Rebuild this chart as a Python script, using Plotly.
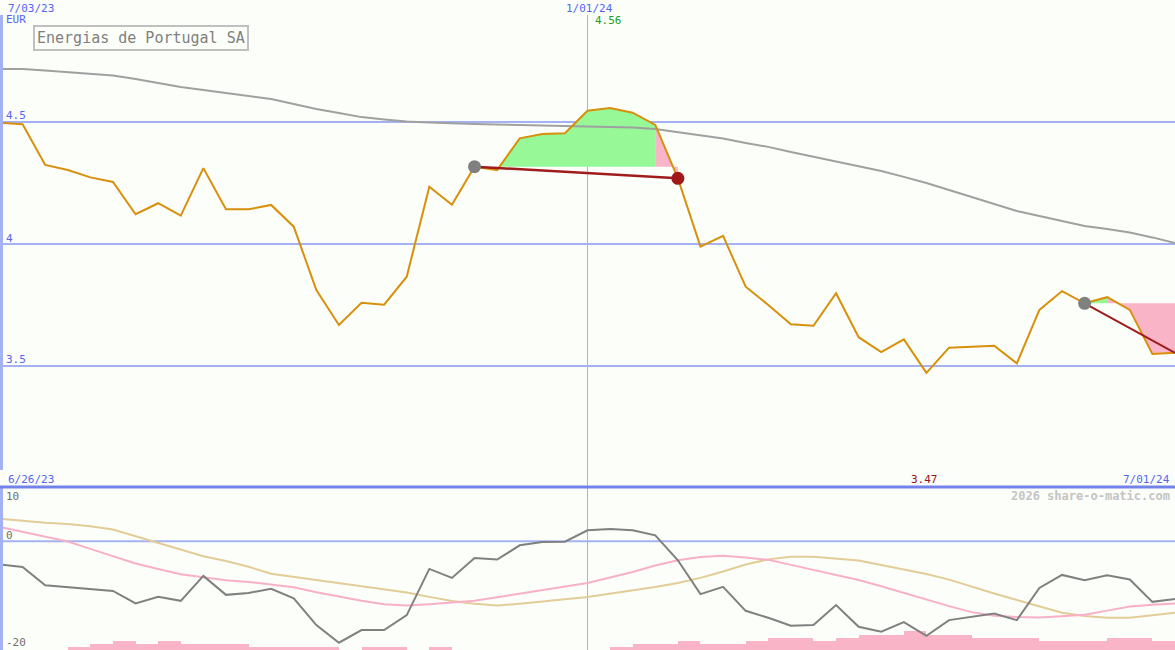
import pandas as pd
import plotly.graph_objects as go

# ---------------- data ----------------
start = pd.Timestamp("2023-07-03")
dates = [start + pd.Timedelta(weeks=k) for k in range(53)]

price = [4.497, 4.491, 4.324, 4.303, 4.273, 4.254, 4.122, 4.167, 4.116, 4.311,
         4.142, 4.142, 4.160, 4.071, 3.811, 3.668, 3.759, 3.751, 3.866, 4.235,
         4.161, 4.317, 4.303, 4.433, 4.451, 4.454, 4.546, 4.557, 4.538, 4.488,
         4.269, 3.989, 4.033, 3.825, 3.750, 3.671, 3.665, 3.798, 3.618, 3.557,
         3.609, 3.472, 3.575, 3.579, 3.583, 3.511, 3.730, 3.807, 3.757, 3.782,
         3.730, 3.549, 3.554]

ma = [4.717, 4.717, 4.711, 4.705, 4.699, 4.691, 4.676, 4.659, 4.643, 4.631,
      4.619, 4.607, 4.594, 4.574, 4.553, 4.537, 4.520, 4.510, 4.502, 4.498,
      4.494, 4.492, 4.490, 4.488, 4.486, 4.484, 4.482, 4.480, 4.477, 4.471,
      4.459, 4.447, 4.432, 4.414, 4.398, 4.377, 4.357, 4.336, 4.316, 4.299,
      4.275, 4.250, 4.221, 4.193, 4.164, 4.135, 4.115, 4.094, 4.074, 4.061,
      4.047, 4.027, 4.004]

momentum = [-4.28, -4.72, -8.07, -8.39, -8.75, -9.12, -11.43, -10.22, -10.95, -6.37,
            -9.85, -9.49, -8.75, -10.51, -15.41, -18.66, -16.33, -16.33, -13.58, -5.08,
            -6.73, -3.06, -3.36, -0.73, -0.13, -0.06, 2.02, 2.26, 2.02, 1.10,
            -3.49, -9.72, -8.39, -12.79, -14.07, -15.54, -15.41, -11.74, -15.72, -16.64,
            -14.86, -17.38, -14.50, -13.89, -13.27, -14.50, -8.57, -6.18, -7.16, -6.24,
            -7.03, -11.14, -10.59]

signal_pink = [2.62, 1.74, 0.86, -0.04, -1.39, -2.75, -4.09, -5.08, -6.07, -6.62,
               -7.17, -7.47, -7.93, -8.46, -9.38, -10.22, -10.92, -11.56, -11.80, -11.56,
               -11.30, -10.92, -10.29, -9.67, -9.03, -8.35, -7.67, -6.66, -5.65, -4.44,
               -3.50, -2.90, -2.66, -2.99, -3.41, -4.33, -5.28, -6.20, -7.12, -8.27,
               -9.52, -10.79, -11.93, -13.03, -13.69, -13.91, -14.00, -13.78, -13.52, -12.75,
               -11.98, -11.67, -11.43]

signal_tan = [4.17, 3.74, 3.43, 3.21, 2.79, 2.17, 0.95, -0.28, -1.50, -2.73,
              -3.63, -4.68, -5.96, -6.53, -7.08, -7.61, -8.22, -8.84, -9.41, -10.22,
              -10.99, -11.49, -11.82, -11.50, -11.14, -10.68, -10.24, -9.63, -9.03, -8.42,
              -7.67, -6.72, -5.56, -4.28, -3.32, -2.84, -2.86, -3.19, -3.54, -4.37,
              -5.19, -6.00, -7.05, -8.37, -9.61, -10.79, -11.96, -13.14, -13.74, -14.07,
              -14.07, -13.63, -13.16]

bar_heights = [0, 0, 0, 0.55, 1.1, 1.65, 1.1, 1.65, 1.1, 1.1,
               1.1, 0.55, 0.55, 0.55, 0.55, 0, 0.55, 0.55, 0, 0.55,
               0, 0, 0, 0, 0, 0, 0, 0.55, 1.1, 1.1,
               1.65, 1.1, 1.1, 1.65, 2.2, 2.2, 1.65, 2.2, 2.75, 2.75,
               3.5, 2.75, 2.75, 2.2, 2.2, 2.2, 1.65, 1.65, 1.65, 2.2,
               2.2, 1.65]

trade1_entry, trade1_exit = 21, 30
trade2_entry = 48

title = "Energias de Portugal SA"
max_label, min_label = "4.56", "3.47"

# ---------------- styling ----------------
W, H = 1175, 650
BG = "#fbfef9"
GRID = "#a4b2f4"
SEP = "#7282ea"
BLUE_TXT = "#5565f0"
ORANGE = "#d8900c"
GREY_MA = "#a0a0a0"
GREEN_FILL = "#96f896"
PINK_FILL = "#f9b4c8"
DARKRED = "#a01c1c"
MONO = "DejaVu Sans Mono"

def py(px):  # pixel row -> paper y
    return 1 - px / H

def pxx(px):
    return px / W

SPLIT = py(487)
WEEK = pd.Timedelta(days=7)

fig = go.Figure()

# ---- trade fills ----
e1 = price[trade1_entry]
t = (e1 - price[22]) / (price[23] - price[22])
x_cross = dates[22] + t * WEEK

def poly(xs, ys, color):
    fig.add_trace(go.Scatter(x=xs, y=ys, fill="toself", fillcolor=color,
                             mode="lines", line=dict(width=0), hoverinfo="skip",
                             showlegend=False))

poly([dates[21], dates[22], x_cross, dates[21]], [price[21], price[22], e1, e1], PINK_FILL)
poly([x_cross] + dates[23:30] + [dates[29], x_cross], [e1] + price[23:30] + [e1, e1], GREEN_FILL)
poly([dates[29], dates[30], dates[30], dates[29]], [price[29], price[30], e1, e1], PINK_FILL)

e2 = price[trade2_entry]
poly([dates[48], dates[49], dates[49]], [e2, price[49], e2], GREEN_FILL)
poly(dates[49:53] + [dates[52], dates[49]], price[49:53] + [e2, e2], PINK_FILL)

# ---- lines main panel ----
fig.add_trace(go.Scatter(x=dates, y=ma, mode="lines", line=dict(color=GREY_MA, width=2),
                         hoverinfo="skip", showlegend=False))
fig.add_trace(go.Scatter(x=dates, y=price, mode="lines", line=dict(color=ORANGE, width=2),
                         hoverinfo="skip", showlegend=False))
fig.add_trace(go.Scatter(x=[dates[trade1_entry], dates[trade1_exit]],
                         y=[price[trade1_entry], price[trade1_exit]],
                         mode="lines", line=dict(color=DARKRED, width=2.5),
                         hoverinfo="skip", showlegend=False))
fig.add_trace(go.Scatter(x=[dates[trade2_entry], dates[52]],
                         y=[price[trade2_entry], price[52]],
                         mode="lines", line=dict(color=DARKRED, width=2),
                         hoverinfo="skip", showlegend=False))
fig.add_trace(go.Scatter(x=[dates[trade1_entry], dates[trade2_entry]],
                         y=[price[trade1_entry], price[trade2_entry]],
                         mode="markers", marker=dict(color="#808080", size=13),
                         hoverinfo="skip", showlegend=False))
fig.add_trace(go.Scatter(x=[dates[trade1_exit]], y=[price[trade1_exit]],
                         mode="markers", marker=dict(color="#a01818", size=13),
                         hoverinfo="skip", showlegend=False))

# ---- lower panel ----
fig.add_trace(go.Bar(x=[d + WEEK / 2 for d in dates[:52]], y=bar_heights, base=-20,
                     width=7 * 24 * 3600 * 1000, marker=dict(color=PINK_FILL, line=dict(width=0)),
                     yaxis="y2", hoverinfo="skip", showlegend=False))
fig.add_trace(go.Scatter(x=dates, y=signal_tan, mode="lines", line=dict(color="#e2cc98", width=2),
                         yaxis="y2", hoverinfo="skip", showlegend=False))
fig.add_trace(go.Scatter(x=dates, y=signal_pink, mode="lines", line=dict(color="#f8b0c8", width=2),
                         yaxis="y2", hoverinfo="skip", showlegend=False))
fig.add_trace(go.Scatter(x=dates, y=momentum, mode="lines", line=dict(color="#808080", width=2),
                         yaxis="y2", hoverinfo="skip", showlegend=False))

# ---- shapes ----
shapes = []
for lvl in (4.5, 4.0, 3.5):
    shapes.append(dict(type="line", xref="paper", x0=0, x1=1, yref="y", y0=lvl, y1=lvl,
                       line=dict(color=GRID, width=2), layer="below"))
shapes.append(dict(type="line", xref="paper", x0=0, x1=1, yref="y2", y0=0, y1=0,
                   line=dict(color=GRID, width=2), layer="below"))
shapes.append(dict(type="line", xref="x", x0=pd.Timestamp("2024-01-01"), x1=pd.Timestamp("2024-01-01"),
                   yref="paper", y0=0, y1=py(15), line=dict(color=GRID, width=1), layer="below"))
shapes.append(dict(type="line", xref="paper", x0=pxx(1.5), x1=pxx(1.5), yref="paper",
                   y0=py(470), y1=py(15), line=dict(color=GRID, width=3)))
shapes.append(dict(type="line", xref="paper", x0=pxx(1.5), x1=pxx(1.5), yref="paper",
                   y0=0, y1=SPLIT, line=dict(color=GRID, width=3)))
shapes.append(dict(type="line", xref="paper", x0=0, x1=1, yref="paper", y0=SPLIT, y1=SPLIT,
                   line=dict(color=SEP, width=3)))

# ---- annotations ----
ann = []
def label(text, x, y, color, size=10, xanchor="left", bold=False):
    if bold:
        text = "<b>" + text + "</b>"
    ann.append(dict(text=text, x=pxx(x), y=py(y), xref="paper", yref="paper",
                    xanchor=xanchor, yanchor="middle", showarrow=False,
                    font=dict(family=MONO, size=size, color=color)))

label("7/03/23", 6, 8, BLUE_TXT, 11)
label("EUR", 4, 19, BLUE_TXT, 11)
label("1/01/24", 590, 8, BLUE_TXT, 11, xanchor="center")
label(max_label, 593, 20, "#20a020", 11)
label("4.5", 4, 116, BLUE_TXT, 11)
label("4", 4, 238, BLUE_TXT, 11)
label("3.5", 4, 359, BLUE_TXT, 11)
label("6/26/23", 6, 479, BLUE_TXT, 11)
label(min_label, 909, 479, "#a01010", 11)
label("7/01/24", 1172, 479, BLUE_TXT, 11, xanchor="right")
label("2026 share-o-matic.com", 1172, 496, "#c4c4c4", 12, xanchor="right", bold=True)
label("10", 4, 496, "#707070", 11)
label("0", 4, 535, "#707070", 11)
label("-20", 4, 642, "#707070", 11)

ann.append(dict(text=title, x=pxx(33), y=py(25), xref="paper", yref="paper",
                xanchor="left", yanchor="top", showarrow=False,
                font=dict(family=MONO, size=15, color="#808080"),
                bordercolor="#c0c0c0", borderwidth=2, borderpad=2, bgcolor=BG))

fig.update_layout(
    width=W, height=H, margin=dict(l=0, r=0, t=0, b=0),
    paper_bgcolor=BG, plot_bgcolor=BG, showlegend=False, bargap=0,
    xaxis=dict(range=[dates[0], dates[52]], visible=False, fixedrange=True),
    yaxis=dict(domain=[SPLIT, 1], range=[3.004, 5.0], visible=False),
    yaxis2=dict(domain=[0, SPLIT], range=[-20, 10], visible=False, anchor="x"),
    shapes=shapes, annotations=ann,
)

fig.write_html("out.html", config={"displayModeBar": False},
               post_script="document.body.style.margin='0';document.body.style.overflow='hidden';")
